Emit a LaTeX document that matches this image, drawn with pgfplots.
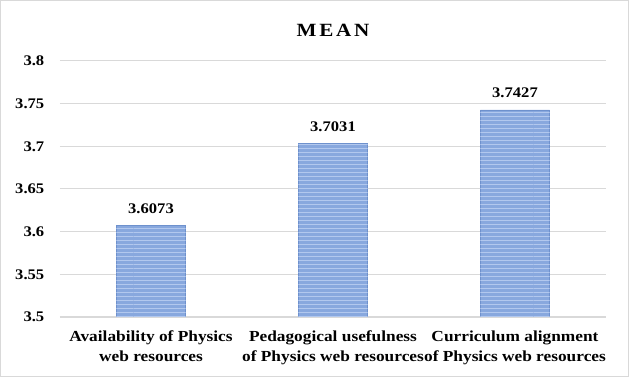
\documentclass[border=0pt]{standalone}
\usepackage{fontspec}
\setmainfont{Liberation Serif}[FakeStretch=1.13]
\usepackage{pgfplots}
\pgfplotsset{compat=1.18}
\usetikzlibrary{patterns}
\definecolor{gridc}{RGB}{217,217,217}
\definecolor{barmid}{RGB}{136,168,222}
\definecolor{baredge}{RGB}{110,145,205}
\definecolor{stripe}{RGB}{178,200,238}
\begin{document}
\begin{tikzpicture}
\useasboundingbox (0,0) rectangle (471.75pt,282.75pt);
\draw[gridc, line width=0.75pt] (0.4pt,0.4pt) rectangle (471.35pt,282.35pt);
\begin{axis}[
  at={(45pt,45pt)}, anchor=south west,
  scale only axis, width=409.5pt, height=192pt,
  xmin=-0.5, xmax=2.5, ymin=3.5, ymax=3.8,
  enlargelimits=false,
  ytick={3.5,3.55,3.6,3.65,3.7,3.75,3.8},
  yticklabels={3.5,3.55,3.6,3.65,3.7,3.75,3.8},
  xtick={0,1,2},
  xticklabels={Availability of Physics\\web resources,Pedagogical usefulness\\of Physics web resources,Curriculum alignment\\of Physics web resources},
  ymajorgrids, grid style={gridc, line width=0.75pt},
  axis x line*=bottom, axis y line*=left,
  y axis line style={draw=none},
  x axis line style={draw=gridc, line width=0.9pt, -},
  major tick length=0pt,
  yticklabel style={font=\bfseries\fontsize{11}{13}\selectfont, xshift=-8.3pt},
  xticklabel style={font=\bfseries\fontsize{11.5}{14.5}\selectfont, align=center, anchor=north, yshift=-7pt},
  /pgf/number format/assume math mode=true,
  title={MEAN},
  title style={at={(0.5,1)}, anchor=base, yshift=12.5pt, font=\bfseries\fontsize{14}{16}\selectfont\addfontfeature{LetterSpace=15}},
  ybar, bar width=51.75pt, bar shift=0pt,
]
\addplot[draw=baredge, line width=0.5pt, fill=barmid,
  nodes near coords, point meta=explicit symbolic,
  nodes near coords style={font=\bfseries\fontsize{11}{13}\selectfont, anchor=base, yshift=9pt, text=black}]
  coordinates {(0,3.6073) [3.6073] (1,3.7031) [3.7031] (2,3.7427) [3.7427]};
\addplot[draw=none, pattern=horizontal lines, pattern color=stripe]
  coordinates {(0,3.6073) (1,3.7031) (2,3.7427)};
\end{axis}
\end{tikzpicture}
\end{document}
